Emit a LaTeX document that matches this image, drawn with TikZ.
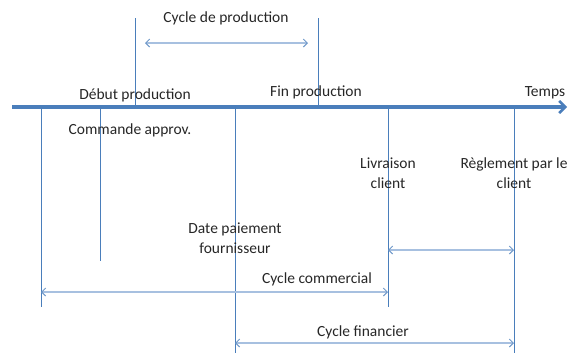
\documentclass[tikz,border=0pt]{standalone}
\usepackage{fontspec}
\setmainfont{Carlito}
\usetikzlibrary{arrows.meta, positioning}

\definecolor{axisblue}{RGB}{74,126,187}
\definecolor{cyclblue}{RGB}{167,192,224}

\tikzset{
    axis/.style   = {draw=axisblue, line width=3.2pt, -{Straight Barb[length=6pt, width=12pt, line width=2.6pt]}},
    mark line/.style = {draw=axisblue, line width=0.9pt},
    cycle arrow/.style = {draw=cyclblue, line width=1.6pt,
                          {Straight Barb[length=4pt, width=8pt, line width=1pt, color=axisblue!80]}-{Straight Barb[length=4pt, width=8pt, line width=1pt, color=axisblue!80]}},
    label/.style  = {font=\fontsize{15.5}{19.5}\selectfont, text=black!85, align=center, inner sep=0pt}
}

\begin{document}
\begin{tikzpicture}[x=1pt, y=-1pt]
    \useasboundingbox (0,0) rectangle (568,354);

    % time axis
    \coordinate (t0) at (12,107);
    \coordinate (t1) at (567,107);
    \draw[axis] (t0) -- (t1);
    \node[label] (temps) at (545,93) {Temps};

    % event marks
    \coordinate (cmdA) at (41,107);   \coordinate (cmdB) at (41,307);
    \coordinate (apvA) at (100,107);  \coordinate (apvB) at (100,261);
    \coordinate (debA) at (135,18);   \coordinate (debB) at (135,107);
    \coordinate (payA) at (235,107);  \coordinate (payB) at (235,353);
    \coordinate (finA) at (318,18);   \coordinate (finB) at (318,107);
    \coordinate (livA) at (388,107);  \coordinate (livB) at (388,307);
    \coordinate (regA) at (514,107);  \coordinate (regB) at (514,353);

    \draw[mark line] (cmdA) -- (cmdB);
    \draw[mark line] (apvA) -- (apvB);
    \draw[mark line] (debA) -- (debB);
    \draw[mark line] (payA) -- (payB);
    \draw[mark line] (finA) -- (finB);
    \draw[mark line] (livA) -- (livB);
    \draw[mark line] (regA) -- (regB);

    % event labels
    \node[label] (debut)   at (135,95)  {Début production};
    \node[label] (fin)     at (316,92)  {Fin production};
    \node[label] (cmd)     at (130,130) {Commande approv.};
    \node[label] (liv)     at (388,173) {Livraison\\client};
    \node[label] (reg)     at (514,173) {Règlement par le\\client};
    \node[label] (pay)     at (235,238) {Date paiement\\fournisseur};

    % cycles
    \coordinate (prodA) at (145,43);  \coordinate (prodB) at (308,43);
    \coordinate (comA)  at (41,292);  \coordinate (comB)  at (388,292);
    \coordinate (finaA) at (235,343); \coordinate (finaB) at (514,343);
    \coordinate (cliA)  at (388,250); \coordinate (cliB)  at (514,250);

    \draw[cycle arrow] (prodA) -- (prodB);
    \draw[cycle arrow] (comA)  -- (comB);
    \draw[cycle arrow] (finaA) -- (finaB);
    \draw[cycle arrow] (cliA)  -- (cliB);

    \node[label] (prod)  at (226,18)  {Cycle de production};
    \node[label] (com)   at (317,279) {Cycle commercial};
    \node[label] (fina)  at (363,332) {Cycle financier};
\end{tikzpicture}
\end{document}
